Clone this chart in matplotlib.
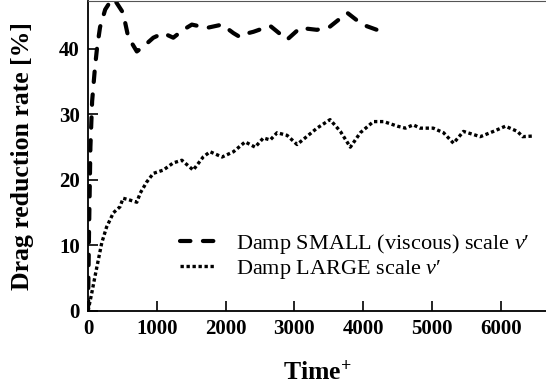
import matplotlib
matplotlib.use("Agg")
import matplotlib.pyplot as plt

plt.rcParams['font.family'] = ['Liberation Serif', 'DejaVu Serif']
plt.rcParams['mathtext.fontset'] = 'custom'
plt.rcParams['mathtext.rm'] = 'Liberation Serif'
plt.rcParams['mathtext.it'] = 'Liberation Serif:italic'
plt.rcParams['mathtext.bf'] = 'Liberation Serif:bold'

# Damp SMALL (viscous) scale v'
t_small = [0, 15, 35, 60, 100, 130, 175, 250, 330, 380, 510, 585, 710, 800, 950, 1095,
           1240, 1385, 1510, 1730, 1950, 2115, 2210, 2330, 2405, 2650, 2895, 3085, 3330,
           3520, 3770, 3990, 4280, 4325]
v_small = [0, 12, 25, 32, 37, 40, 43.3, 46, 47.3, 47.6, 45.5, 41.8, 39.6, 40.3, 41.7, 42.4,
           41.7, 42.9, 43.7, 43.2, 43.7, 42.4, 41.8, 42.4, 42.6, 43.5, 41.4, 43.2, 42.9,
           43.4, 45.5, 43.7, 42.6, 42.4]

# Damp LARGE scale v'
t_large = [0, 54, 100, 150, 200, 270, 370, 465, 510, 585, 710, 760, 855, 950, 1095, 1240,
           1365, 1530, 1675, 1775, 1950, 2115, 2285, 2430, 2550, 2650, 2750, 2895, 3040,
           3330, 3520, 3670, 3815, 3960, 4150, 4300, 4500, 4615, 4730, 4830, 5020, 5170,
           5315, 5460, 5705, 5895, 6070, 6245, 6320, 6480]
v_large = [0, 2.7, 5.2, 7.8, 10.4, 12.8, 15.0, 15.9, 17.2, 17.0, 16.6, 18.0, 19.7, 21.0, 21.5,
           22.6, 23.0, 21.5, 23.5, 24.3, 23.5, 24.3, 25.8, 25.0, 26.4, 26.1, 27.2, 26.8,
           25.4, 27.9, 29.2, 27.4, 25.0, 27.2, 28.9, 28.9, 28.2, 27.9, 28.4, 27.9, 27.9,
           27.2, 25.6, 27.4, 26.6, 27.4, 28.2, 27.4, 26.6, 26.7]

xticks = [0, 1000, 2000, 3000, 4000, 5000, 6000]
yticks = [0, 10, 20, 30, 40]

fig = plt.figure(figsize=(5.46, 3.91), dpi=100)
ax = fig.add_axes([88/546, 80/391, 1 - 88/546, 310/391])

ax.plot(t_small, v_small, color='black', lw=3.0, linestyle=(0, (2.5, 3.0)),
        dash_capstyle='round', label=r"Damp SMALL (viscous) scale $\mathit{v}$′")
ax.plot(t_large, v_large, color='black', lw=2.4, linestyle=(0, (1.0, 0.8)),
        label=r"Damp LARGE scale $\mathit{v}$′")

ax.set_xlim(0, 6660)
ax.set_ylim(0, 47.3)
ax.set_xticks(xticks)
ax.set_yticks(yticks)
ax.tick_params(direction='in', length=7, width=1.2, labelsize=15, pad=6)
for lab in ax.get_xticklabels() + ax.get_yticklabels():
    lab.set_fontweight('bold')
ax.spines['right'].set_visible(False)
for s in ['left', 'bottom']:
    ax.spines[s].set_linewidth(1.3)
ax.spines['top'].set_color('#555555')
ax.spines['top'].set_linewidth(0.8)

ax.set_xlabel(r"Time$^{\mathbf{+}}$", fontsize=18.5, fontweight='bold', labelpad=15)
ax.set_ylabel("Drag reduction rate [%]", fontsize=18.5, fontweight='bold', labelpad=18)

ax.legend(loc='center left', bbox_to_anchor=(0.2009, 0.176), frameon=False, fontsize=16,
          handlelength=1.6, handletextpad=0.9, labelspacing=0.1, borderaxespad=0,
          borderpad=0)

fig.savefig("out.png", dpi=100)
